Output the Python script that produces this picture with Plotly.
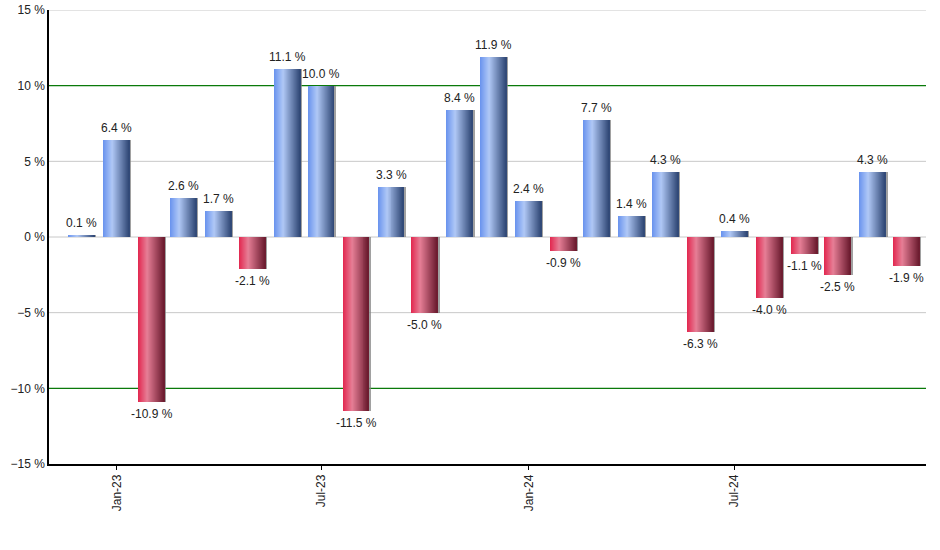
import plotly.graph_objects as go

# Monthly returns, Dec-22 .. Dec-24
months = ["2022-12-01", "2023-01-01", "2023-02-01", "2023-03-01", "2023-04-01",
          "2023-05-01", "2023-06-01", "2023-07-01", "2023-08-01", "2023-09-01",
          "2023-10-01", "2023-11-01", "2023-12-01", "2024-01-01", "2024-02-01",
          "2024-03-01", "2024-04-01", "2024-05-01", "2024-06-01", "2024-07-01",
          "2024-08-01", "2024-09-01", "2024-10-01", "2024-11-01", "2024-12-01"]
returns = [0.1, 6.4, -10.9, 2.6, 1.7, -2.1, 11.1, 10.0, -11.5, 3.3, -5.0, 8.4,
           11.9, 2.4, -0.9, 7.7, 1.4, 4.3, -6.3, 0.4, -4.0, -1.1, -2.5, 4.3, -1.9]
labels = [f"{v:.1f} %" for v in returns]

tick_dates = ["2023-01-01", "2023-07-01", "2024-01-01", "2024-07-01"]
tick_text = ["Jan-23", "Jul-23", "Jan-24", "Jul-24"]

grid_vals = [15, 5, 0, -5]
ref_lines = [10, -10]

DAY = 86400000
bar_w = 23 * DAY
n_slices = 26
step = bar_w / n_slices

blue_stops = [(0.0, (104, 146, 238)), (0.35, (176, 200, 246)), (1.0, (46, 70, 116))]
red_stops = [(0.0, (226, 38, 78)), (0.35, (230, 126, 150)), (1.0, (106, 26, 46))]


def grad(stops, t):
    for (p0, c0), (p1, c1) in zip(stops[:-1], stops[1:]):
        if t <= p1:
            f = (t - p0) / (p1 - p0)
            return "rgb(%d,%d,%d)" % tuple(round(a + (b - a) * f) for a, b in zip(c0, c1))
    return "rgb(%d,%d,%d)" % stops[-1][1]


fig = go.Figure()

# soft shadow on the right side of each bar
fig.add_trace(go.Bar(x=months, y=returns, width=bar_w, offset=-bar_w / 2 + 1.5 * DAY,
                     marker=dict(color="rgba(130,130,130,0.75)", line_width=0),
                     hoverinfo="skip", showlegend=False))

# horizontal gradient made of thin slices
for i in range(n_slices):
    t = (i + 0.5) / n_slices
    off = -bar_w / 2 + i * step
    w = min(step * 1.7, bar_w / 2 - off)
    cols = [grad(blue_stops, t) if v >= 0 else grad(red_stops, t) for v in returns]
    fig.add_trace(go.Bar(x=months, y=returns, width=w, offset=off,
                         marker=dict(color=cols, line_width=0),
                         hovertext=labels, hoverinfo="x+text", showlegend=False))

# value labels above / below the bars
for d, v, lab in zip(months, returns, labels):
    fig.add_annotation(x=d, y=v, text=lab, showarrow=False,
                       yshift=12 if v >= 0 else -12,
                       font=dict(family="Liberation Sans, Arial", size=12, color="#222"))

# grid drawn as shapes so the green reference lines sit on top of it
for y in grid_vals:
    fig.add_hline(y=y, line=dict(color="#c8c8c8", width=1), layer="below")
for y in ref_lines:
    fig.add_hline(y=y, line=dict(color="#0a7a0a", width=1.3), layer="below")

fig.update_layout(
    width=940, height=550,
    margin=dict(l=49, r=14, t=10, b=86),
    barmode="overlay", bargap=0,
    plot_bgcolor="white", paper_bgcolor="white",
    font=dict(family="Liberation Sans, Arial", size=12, color="#222"),
    xaxis=dict(type="date", range=["2022-11-02", "2024-12-18"],
               tickvals=tick_dates, ticktext=tick_text, tickangle=-90,
               ticks="outside", ticklen=4, tickcolor="black",
               showgrid=False, showline=True, linecolor="black", linewidth=1.5,
               zeroline=False, automargin=False),
    yaxis=dict(range=[-15, 15], dtick=5, ticksuffix=" %",
               showgrid=False, zeroline=False,
               showline=True, linecolor="black", linewidth=1.5, ticks="",
               automargin=False),
)

fig.write_html("out.html", config={"displayModeBar": False},
               post_script="document.body.style.margin='0';")
